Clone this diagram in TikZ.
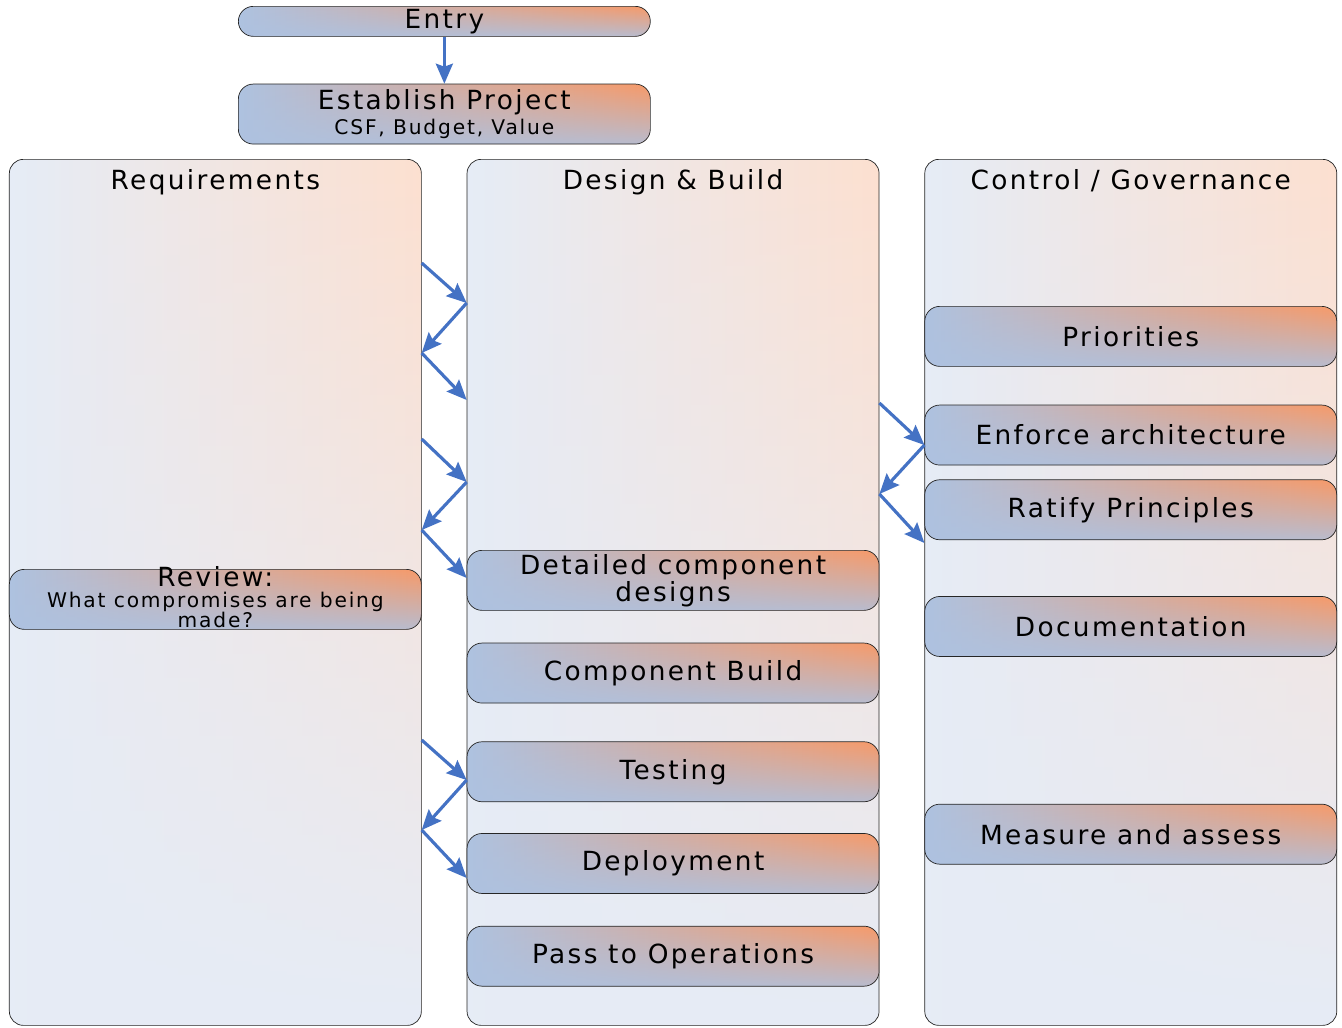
\documentclass[tikz,border=0pt]{standalone}
\usepackage{fontspec}
\setmainfont{DejaVu Sans}[LetterSpace=9]
\usetikzlibrary{arrows.meta, positioning, fadings}

\definecolor{stageblue}{HTML}{AEC2E0}
\definecolor{stageorange}{HTML}{F79A69}
\definecolor{laneblue}{HTML}{E6ECF6}
\definecolor{lanepeach}{HTML}{FDE0D0}
\definecolor{flowblue}{HTML}{4472C4}

\newcommand{\stagefont}{\fontsize{15pt}{14.5pt}\selectfont}
\newcommand{\subfont}{\fontsize{11.5pt}{11.5pt}\selectfont}

% blue creeps back in along the lower edge
\tikzfading[name=stage fade, top color=transparent!100, middle color=transparent!100, bottom color=transparent!15]
\tikzfading[name=lane fade, top color=transparent!100, bottom color=transparent!0]

\begin{document}
\begin{tikzpicture}[
    >=Stealth,
    flow/.style={-{Stealth[length=0.4cm, width=0.34cm, inset=0.06cm]}, line width=1.8pt, draw=flowblue},
    lane/.style={draw=black!85, rounded corners=0.28cm, minimum width=8.24cm, minimum height=17.32cm,
      left color=laneblue, right color=lanepeach,
      path picture={\fill[laneblue, path fading=lane fade] (path picture bounding box.south west) rectangle (path picture bounding box.north east);}},
    stage/.style={draw=black!85, rounded corners=0.3cm, minimum width=8.24cm, minimum height=1.2cm, inner ysep=0.04cm,
      align=center, font=\stagefont,
      left color=stageblue, right color=stageorange,
      path picture={\fill[stageblue, path fading=stage fade] (path picture bounding box.south west) rectangle (path picture bounding box.north east);}},
    lanetitle/.style={font=\stagefont, anchor=north},
  ]
  \useasboundingbox (0,0) rectangle (26.84,-20.54);

  % --- Entry and project set-up ---
  \node[stage, minimum height=0.6cm, inner ysep=0pt, anchor=north west] (entry) at (4.76,-0.12) {Entry};
  \node[stage, below=0.94cm of entry] (project) {Establish Project\\{\subfont CSF, Budget, Value}};

  % --- Lanes ---
  \node[lane, anchor=north west] (req) at (0.18,-3.18) {};
  \node[lane, right=0.9cm of req] (des) {};
  \node[lane, right=0.9cm of des] (gov) {};

  \node[lanetitle] at ([yshift=-0.08cm]req.north) {Requirements};
  \node[lanetitle] at ([yshift=-0.08cm]des.north) {Design \& Build};
  \node[lanetitle] at ([yshift=-0.08cm]gov.north) {Control / Governance};

  % --- Requirements lane (last line spills over the edge) ---
  \node[stage, anchor=north, font=\subfont, inner ysep=0.04cm, text height=1.12cm, text depth=0cm] (review)
    at ([yshift=-8.2cm]req.north) {{\stagefont Review:}\\What compromises are being\\made?};

  % --- Design & Build lane ---
  \node[stage, anchor=north] (detail) at ([yshift=-7.82cm]des.north) {Detailed component\\designs};
  \node[stage, below=0.64cm of detail] (build) {Component Build};
  \node[stage, below=0.76cm of build] (testing) {Testing};
  \node[stage, below=0.62cm of testing] (deploy) {Deployment};
  \node[stage, below=0.64cm of deploy] (handover) {Pass to Operations};

  % --- Control / Governance lane ---
  \node[stage, anchor=north] (prio) at ([yshift=-2.94cm]gov.north) {Priorities};
  \node[stage, below=0.76cm of prio] (enforce) {Enforce architecture};
  \node[stage, below=0.28cm of enforce] (ratify) {Ratify Principles};
  \node[stage, below=1.12cm of ratify] (docs) {Documentation};
  \node[stage, below=2.94cm of docs] (measure) {Measure and assess};

  % --- Hand-off points on the lane edges ---
  \coordinate (a1) at ([yshift=-2.08cm]req.north east);
  \coordinate (a2) at ([yshift=-2.88cm]des.north west);
  \coordinate (a3) at ([yshift=-3.88cm]req.north east);
  \coordinate (a4) at ([yshift=-4.82cm]des.north west);

  \coordinate (b1) at ([yshift=-5.60cm]req.north east);
  \coordinate (b2) at ([yshift=-6.46cm]des.north west);
  \coordinate (b3) at ([yshift=-7.42cm]req.north east);
  \coordinate (b4) at ([yshift=-8.38cm]des.north west);

  \coordinate (c1) at ([yshift=-11.62cm]req.north east);
  \coordinate (c2) at ([yshift=-12.42cm]des.north west);
  \coordinate (c3) at ([yshift=-13.42cm]req.north east);
  \coordinate (c4) at ([yshift=-14.38cm]des.north west);

  \coordinate (d1) at ([yshift=-4.88cm]des.north east);
  \coordinate (d2) at ([yshift=-5.72cm]gov.north west);
  \coordinate (d3) at ([yshift=-6.70cm]des.north east);
  \coordinate (d4) at ([yshift=-7.68cm]gov.north west);

  % --- Arrows ---
  \draw[flow] (entry) -- (project);

  \draw[flow] (a1) -- (a2);
  \draw[flow] (a2) -- (a3);
  \draw[flow] (a3) -- (a4);

  \draw[flow] (b1) -- (b2);
  \draw[flow] (b2) -- (b3);
  \draw[flow] (b3) -- (b4);

  \draw[flow] (c1) -- (c2);
  \draw[flow] (c2) -- (c3);
  \draw[flow] (c3) -- (c4);

  \draw[flow] (d1) -- (d2);
  \draw[flow] (d2) -- (d3);
  \draw[flow] (d3) -- (d4);

\end{tikzpicture}
\end{document}
